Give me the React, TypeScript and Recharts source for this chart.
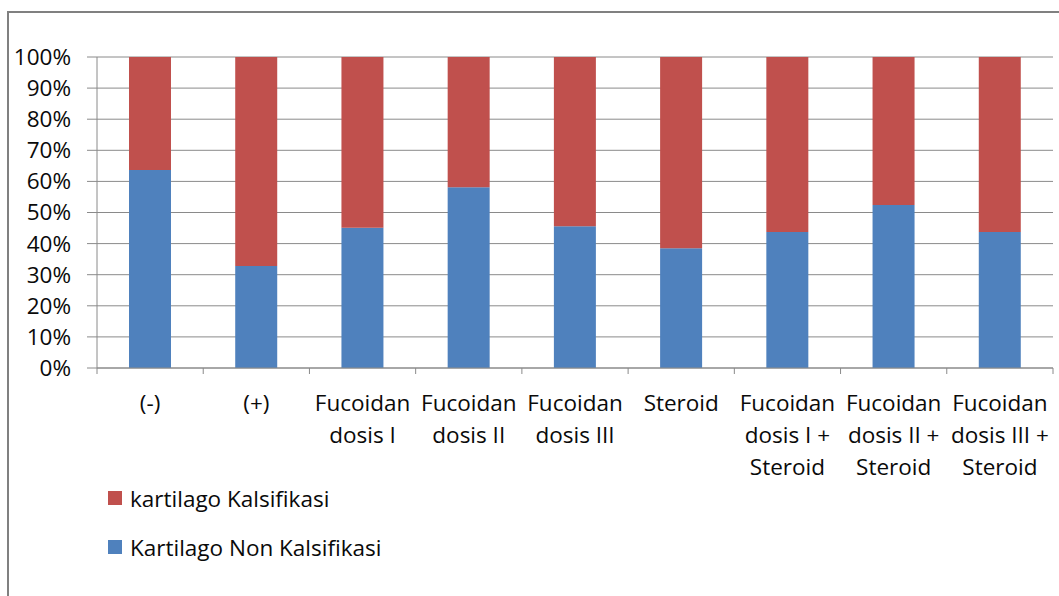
import React from 'react';
import { BarChart, Bar, XAxis, YAxis, CartesianGrid, Legend } from 'recharts';

const categories: string[][] = [
  ['(-)'],
  ['(+)'],
  ['Fucoidan', 'dosis I'],
  ['Fucoidan', 'dosis II'],
  ['Fucoidan', 'dosis III'],
  ['Steroid'],
  ['Fucoidan', 'dosis I +', 'Steroid'],
  ['Fucoidan', 'dosis II +', 'Steroid'],
  ['Fucoidan', 'dosis III +', 'Steroid'],
];
const nonKalsifikasi: number[] = [63.7, 32.8, 45.1, 58.1, 45.6, 38.5, 43.7, 52.4, 43.7];
const kalsifikasi: number[] = [36.3, 67.2, 54.9, 41.9, 54.4, 61.5, 56.3, 47.6, 56.3];
const yTicks: number[] = [0, 10, 20, 30, 40, 50, 60, 70, 80, 90, 100];

const data = categories.map((c, i) => ({
  name: c.join(' '),
  lines: c,
  non: nonKalsifikasi[i],
  kal: kalsifikasi[i],
}));

const W = 1059;
const H = 596;
const LEFT = 97;
const RIGHT = 6;
const BAND = (W - LEFT - RIGHT) / categories.length;
const FONT = '"Open Sans", sans-serif';
const FS = 22.5;
const GRID = '#8a8a8a';
const BLUE = '#4F81BD';
const RED = '#C0504D';
const TEXT = '#0a0a0a';

const XTick = (props: any) => {
  const { x, y, payload, index } = props;
  const lines: string[] = data[index]?.lines ?? [String(payload.value)];
  const last = index === categories.length - 1;
  return (
    <g>
      <line x1={x - BAND / 2} x2={x - BAND / 2} y1={y} y2={y + 6} stroke={GRID} strokeWidth={1} />
      {last && <line x1={x + BAND / 2} x2={x + BAND / 2} y1={y} y2={y + 6} stroke={GRID} strokeWidth={1} />}
      <text x={x} y={y + 43} textAnchor="middle" fontFamily={FONT} fontSize={FS} fill={TEXT}>
        {lines.map((l, i) => (
          <tspan key={i} x={x} dy={i === 0 ? 0 : 32}>
            {l}
          </tspan>
        ))}
      </text>
    </g>
  );
};

const LegendContent = (props: any) => {
  const items = [...(props.payload || [])].reverse();
  return (
    <div style={{ height: 110, position: 'relative', fontFamily: FONT, fontSize: FS, color: TEXT }}>
      {items.map((it: any, i: number) => (
        <div
          key={i}
          style={{ position: 'absolute', left: 108, top: -3 + i * 49, display: 'flex', alignItems: 'center', height: 30, whiteSpace: 'nowrap' }}
        >
          <span style={{ display: 'inline-block', width: 14, height: 14, background: it.color, marginRight: 8 }} />
          <span>{it.value}</span>
        </div>
      ))}
    </div>
  );
};

export default function App() {
  return (
    <div style={{ position: 'absolute', left: 0, top: 0, width: W, height: H, background: '#fff', overflow: 'hidden' }}>
      <div
        style={{
          position: 'absolute',
          left: 7,
          top: 11,
          width: W + 20,
          height: H + 20,
          borderTop: '2px solid #808080',
          borderLeft: '2px solid #808080',
        }}
      />
      <div style={{ position: 'absolute', left: 0, top: 0 }}>
        <BarChart
          width={W}
          height={H}
          data={data}
          margin={{ top: 57, right: RIGHT, left: 0, bottom: 0 }}
          barSize={42}
        >
          <CartesianGrid vertical={false} stroke={GRID} strokeWidth={1} />
          <XAxis
            dataKey="name"
            interval={0}
            height={118}
            tick={<XTick />}
            tickLine={false}
            tickSize={0}
            tickMargin={0}
            axisLine={{ stroke: GRID }}
          />
          <YAxis
            width={LEFT}
            domain={[0, 100]}
            ticks={yTicks}
            interval={0}
            tickFormatter={(v: number) => `${v}%`}
            tickSize={10}
            tickMargin={16}
            tickLine={{ stroke: GRID }}
            axisLine={{ stroke: GRID }}
            tick={{ fontFamily: FONT, fontSize: FS, fill: TEXT }}
          />
          <Legend verticalAlign="bottom" align="left" content={<LegendContent />} />
          <Bar dataKey="non" name="Kartilago Non Kalsifikasi" stackId="a" fill={BLUE} isAnimationActive={false} />
          <Bar dataKey="kal" name="kartilago Kalsifikasi" stackId="a" fill={RED} isAnimationActive={false} />
        </BarChart>
      </div>
    </div>
  );
}
